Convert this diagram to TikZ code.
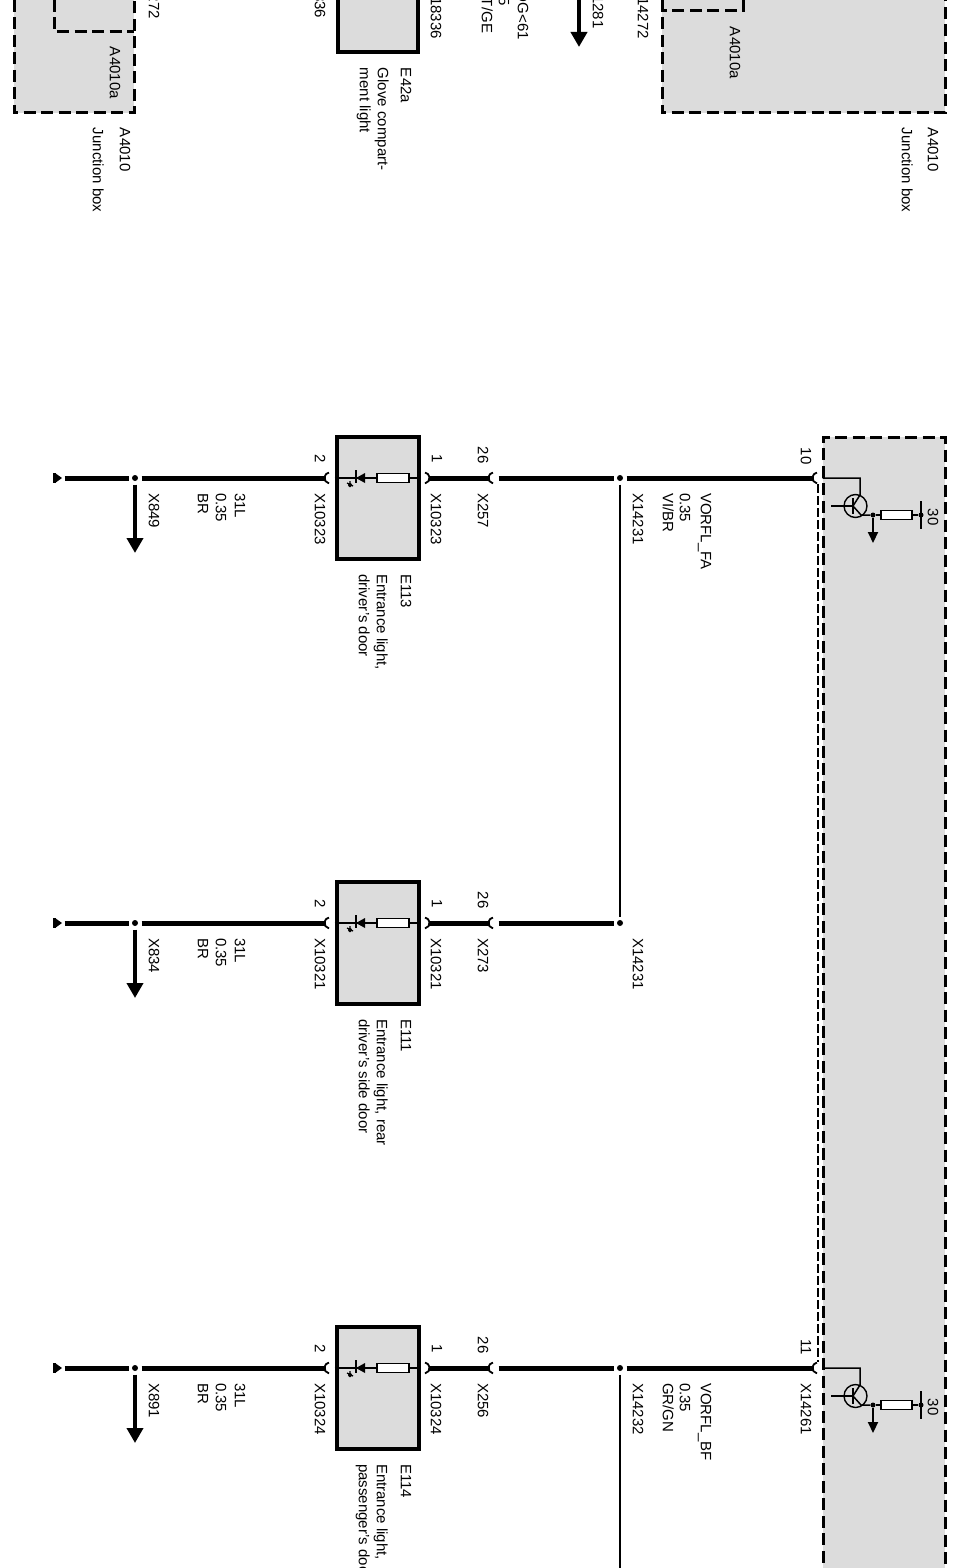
\documentclass[tikz,border=0pt]{standalone}
\usepackage{fontspec}
\setmainfont{Liberation Sans}
\usetikzlibrary{arrows.meta}
\definecolor{boxgrey}{RGB}{220,220,220}
\tikzset{
  x=1pt,y=-1pt,
  lbl/.style={rotate=-90,anchor=west,inner sep=0pt,outer sep=0pt,font=\fontsize{15}{15}\selectfont,text height=10.5pt,text depth=0pt},
  pin/.style={rotate=-90,anchor=center,inner sep=0pt,outer sep=0pt,font=\fontsize{15}{15}\selectfont,text height=10.5pt,text depth=0pt},
  dashinner/.style={draw=black,line width=3pt,dash pattern=on 12pt off 5.5pt},
  compbox/.style={draw=black,line width=3.2pt,fill=boxgrey},
  wire/.style={line width=5pt,draw=black},
  thin wire/.style={line width=1.5pt,draw=black},
  splice/.style={circle,fill=black,inner sep=0pt,minimum size=6pt,outer sep=3.5pt},
  conn/.style={circle,inner sep=0pt,minimum size=9pt,outer sep=0pt},
  bigarrow/.style={line width=4.5pt,draw=black,-{Triangle[length=15pt,width=16pt]}},
  smallarrow/.style={line width=2pt,draw=black,-{Triangle[length=11pt,width=10pt]}},
  res/.style={draw=black,line width=1.6pt,fill=white,inner sep=0pt,minimum width=32pt,minimum height=9pt},
  endmark/.style={fill=black,draw=none},
  bracket/.style={line width=1.8pt,draw=black},
}
% one wire run: #1 prefix, #2 y
\newcommand{\lamprow}[2]{%
  \node[compbox,minimum width=82pt,minimum height=122pt,inner sep=0pt] (#1box) at (378,#2+20) {};
  \node[conn] (#1end) at (60,#2) {};
  \fill[endmark] (53,#2-5) rectangle (56,#2+5);
  \fill[endmark] (55,#2-5) -- (62,#2) -- (55,#2+5) -- cycle;
  \node[splice] (#1gnd) at (135,#2) {};
  \node[conn] (#1c2) at (330,#2) {};
  \node[conn] (#1c1) at (424,#2) {};
  \node[conn] (#1c26) at (494,#2) {};
  \node[splice] (#1sp) at (620,#2) {};
  \coordinate (#1gndarrow) at (135,#2+75);
  \draw[wire] (#1end) -- (#1gnd);
  \draw[wire] (#1gnd) -- (#1c2);
  \draw[wire] (#1c1) -- (#1c26);
  \draw[wire] (#1c26) -- (#1sp);
  \draw[bigarrow] (#1gnd) -- (#1gndarrow);
  \draw[bracket] (329,#2+5.4) arc[start angle=100,end angle=260,radius=5.5];
  \draw[bracket] (425,#2+5.4) arc[start angle=80,end angle=-80,radius=5.5];
  \draw[bracket] (493,#2+5.4) arc[start angle=100,end angle=260,radius=5.5];
  \node[res] (#1r) at (393,#2) {};
  \coordinate (#1led) at (356,#2);
  \draw[thin wire] (#1c2) -- (#1led);
  \draw[thin wire] (#1led) -- (#1r);
  \draw[thin wire] (#1r) -- (#1c1);
  \fill[endmark] (356,#2) -- (365,#2-5) -- (365,#2+5) -- cycle;
  \draw[line width=1.4pt] (356,#2-8) -- (356,#2+5);
  \draw[line width=1.2pt] (347,#2+5) -- (353,#2+8) (350,#2+3) -- (350,#2+9);
  \fill[endmark] (350,#2+7) circle[radius=2];
  \node[pin] at (320,#2-19) {2};
  \node[pin] at (437,#2-19) {1};
  \node[pin] at (483,#2-23) {26};
  \node[lbl] at (240,#2+15) {31L};
  \node[lbl] at (221,#2+15) {0.35};
  \node[lbl] at (203,#2+15) {BR};
}
\begin{document}
\begin{tikzpicture}
\useasboundingbox (0,0) rectangle (959,1568);
\clip (0,0) rectangle (959,1568);
% top fragments
\fill[boxgrey] (14,-10) rectangle (134,113);
\draw[dashinner] (14,0) -- (14,113) -- (134,113) -- (134,0);
\draw[dashinner] (54,0) -- (54,32) -- (134,32);
\node[lbl] at (115,47) {A4010a};
\node[lbl] at (125,128) {A4010};
\node[lbl] at (98,128) {Junction box};
\node[lbl] at (154,-33) {X14272};
\node[lbl] at (320,-17) {X836};
\node[compbox,minimum width=80pt,minimum height=80pt,inner sep=0pt] (e42) at (378,12) {};
\node[lbl] at (436,-13) {X18336};
\node[lbl] at (406,68) {E42a};
\node[lbl] at (383,68) {Glove compart-};
\node[lbl] at (365,68) {ment light};
\node[lbl] at (523,-8) {DG<61};
\node[lbl] at (504,-2.5) {5};
\node[lbl] at (487,-2) {T/GE};
\coordinate (topa) at (579,-5);
\coordinate (topb) at (579,47);
\draw[bigarrow] (topa) -- (topb);
\node[lbl] at (598,-15) {X1281};
\node[lbl] at (643,-13) {X14272};
\fill[boxgrey] (662,-10) rectangle (945,113);
\draw[dashinner] (662,0) -- (662,113) -- (945,113) -- (945,0);
\draw[dashinner] (743,0) -- (743,11) -- (662,11);
\node[lbl] at (735,27) {A4010a};
\node[lbl] at (933,128) {A4010};
\node[lbl] at (907,128) {Junction box};
% main junction box
\path[fill=boxgrey] (823,437) rectangle (945,1580);
\draw[dashinner] (823,1580) -- (823,437) -- (945,437) -- (945,1580);
\draw[line width=1.3pt,dash pattern=on 9pt off 3pt] (818,484) -- (818,1362);
% rows
\lamprow{a}{478}
\lamprow{b}{923}
\lamprow{c}{1368}
% links to the junction box
\node[conn] (ao) at (818,478) {};
\node[conn] (co) at (818,1368) {};
\draw[wire] (asp) -- (ao);
\draw[wire] (csp) -- (co);
\draw[thin wire] (asp) -- (bsp);
\coordinate (cdown) at (620,1580);
\draw[thin wire] (csp) -- (cdown);
\draw[bracket] (817,483.4) arc[start angle=100,end angle=260,radius=5.5];
\draw[bracket] (817,1373.4) arc[start angle=100,end angle=260,radius=5.5];
% row labels
\node[lbl] at (154,493) {X849};
\node[lbl] at (320,493) {X10323};
\node[lbl] at (436,493) {X10323};
\node[lbl] at (483,493) {X257};
\node[lbl] at (638,493) {X14231};
\node[lbl] at (706,493) {VORFL\_FA};
\node[lbl] at (685,493) {0.35};
\node[lbl] at (668,493) {VI/BR};
\node[pin] at (806,456) {10};
\node[lbl] at (406,574) {E113};
\node[lbl] at (382,574) {Entrance light,};
\node[lbl] at (364,574) {driver's door};
\node[lbl] at (154,938) {X834};
\node[lbl] at (320,938) {X10321};
\node[lbl] at (436,938) {X10321};
\node[lbl] at (483,938) {X273};
\node[lbl] at (638,938) {X14231};
\node[lbl] at (406,1019) {E111};
\node[lbl] at (382,1019) {Entrance light, rear};
\node[lbl] at (364,1019) {driver's side door};
\node[lbl] at (154,1383) {X891};
\node[lbl] at (320,1383) {X10324};
\node[lbl] at (436,1383) {X10324};
\node[lbl] at (483,1383) {X256};
\node[lbl] at (638,1383) {X14232};
\node[lbl] at (706,1383) {VORFL\_BF};
\node[lbl] at (685,1383) {0.35};
\node[lbl] at (668,1383) {GR/GN};
\node[pin] at (806,1347) {11};
\node[lbl] at (806,1383) {X14261};
\node[lbl] at (406,1464) {E114};
\node[lbl] at (382,1464) {Entrance light,};
\node[lbl] at (364,1464) {passenger's door};
% transistors
\foreach \p/\o/\yy in {ta/ao/478,tc/co/1368}{
  \node[circle,draw=black,line width=1.4pt,inner sep=0pt,minimum size=23pt] (\p q) at (855.5,\yy+28) {};
  \coordinate (\p c) at (860,\yy);
  \coordinate (\p ce) at (860,\yy+17);
  \coordinate (\p b) at (831,\yy+28);
  \coordinate (\p bb) at (853,\yy+28);
  \coordinate (\p e) at (861,\yy+37);
  \node[circle,fill=black,inner sep=0pt,minimum size=5pt] (\p j) at (873,\yy+37) {};
  \node[res,minimum width=31pt] (\p r) at (896.5,\yy+37) {};
  \node[circle,fill=black,inner sep=0pt,minimum size=5pt] (\p k) at (921,\yy+37) {};
  \coordinate (\p g) at (873,\yy+65);
  \draw[thin wire] (\o) -- (\p c) -- (\p ce) -- (\p bb);
  \draw[thin wire] (\p b) -- (\p bb);
  \draw[thin wire] (853,\yy+20) -- (853,\yy+36);
  \draw[thin wire] (\p bb) -- (\p e) -- (\p j);
  \draw[thin wire] (\p j) -- (\p r);
  \draw[thin wire] (\p r) -- (\p k);
  \draw[thin wire] (921,\yy+23) -- (921,\yy+51);
  \draw[smallarrow] (\p j) -- (\p g);
  \node[pin] at (933,\yy+39) {30};
}
\end{tikzpicture}
\end{document}
